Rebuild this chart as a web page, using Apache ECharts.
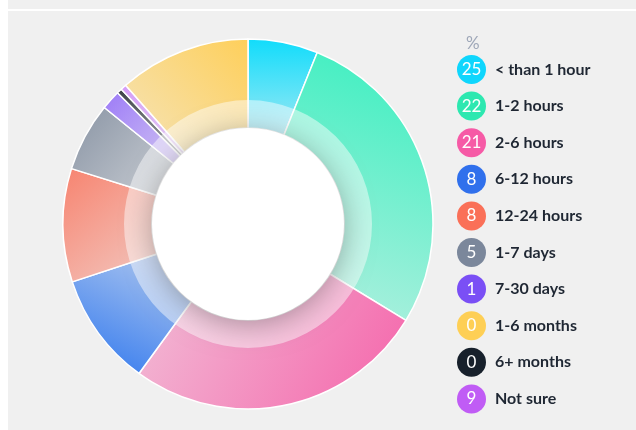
<!DOCTYPE html>
<html>
<head>
<meta charset="utf-8">
<style>
  html, body { margin: 0; padding: 0; background: #fff; }
  #chart { width: 636px; height: 430px; }
</style>
<script src="https://cdn.jsdelivr.net/npm/echarts@6/dist/echarts.min.js"></script>
</head>
<body>
<div id="chart"></div>
<script>
// legend rows
const categories = ['< than 1 hour', '1-2 hours', '2-6 hours', '6-12 hours', '12-24 hours',
  '1-7 days', '7-30 days', '1-6 months', '6+ months', 'Not sure'];
const legendValues = [25, 22, 21, 8, 8, 5, 1, 0, 0, 9];
const legendColors = ['#0fd6fd', '#2de8b0', '#f65aa6', '#3070ec', '#fa7058',
  '#7b879b', '#7a4ff5', '#fecf55', '#17202b', '#c05cf5'];

// slice order on the ring (clockwise from top) and their sizes
const sliceNames = ['< than 1 hour', '1-2 hours', '2-6 hours', '6-12 hours', '12-24 hours',
  '1-7 days', '7-30 days', '6+ months', 'Not sure', '1-6 months'];
const sliceValues = [6.1, 27.6, 26.3, 9.9, 9.9, 6.0, 1.7, 0.45, 0.5, 11.5];
const sliceColors = ['#10dcfb', '#3cefc0', '#f564aa', '#3a7eee', '#f7836f',
  '#8994a4', '#9c7af7', '#3a3f44', '#d49af7', '#fecf5a'];
// gradient direction per slice: from saturated end to pale end
const sliceDirs = [[0, 0, 0, 1], [0.8, 0, 0.2, 1], [1, 1, 0, 0], [0.3, 1, 0.8, 0], [0, 0, 1, 1],
  [0, 0, 1, 1], [0, 0, 1, 1], [0, 0, 1, 1], [0, 0, 1, 1], [1, 0, 0, 1]];

const FONT = 'Lato, "Noto Sans", sans-serif';

function fade(hex, a) {
  const n = parseInt(hex.slice(1), 16);
  return `rgba(${n >> 16},${(n >> 8) & 255},${n & 255},${a})`;
}

const chart = echarts.init(document.getElementById('chart'));

const rich = {
  t: { fontSize: 16, fontWeight: 'bold', color: '#1f2733', fontFamily: FONT, padding: [0, 0, 0, 9] },
};
legendColors.forEach((c, i) => {
  rich['b' + i] = {
    width: 29, height: 29, lineHeight: 29, borderRadius: 15,
    backgroundColor: c, color: '#fff', align: 'center', fontSize: 17, fontFamily: FONT,
  };
});

chart.setOption({
  backgroundColor: '#f0f0f0',
  animation: false,
  graphic: [
    { type: 'rect', left: 0, top: 0, shape: { width: 8, height: 430 }, style: { fill: '#fff' } },
    { type: 'rect', left: 8, top: 9, shape: { width: 628, height: 2 }, style: { fill: '#fff' } },
  ],
  title: {
    text: '%',
    left: 461,
    top: 30,
    textStyle: { fontSize: 17, fontWeight: 'normal', color: '#9ea7b8', fontFamily: FONT },
  },
  legend: {
    orient: 'vertical',
    left: 451,
    top: 55,
    padding: 0,
    itemGap: 7.6,
    itemWidth: 0,
    itemHeight: 0,
    selectedMode: false,
    data: categories,
    formatter: (name) => {
      const i = categories.indexOf(name);
      return `{b${i}|${legendValues[i]}}{t|${name}}`;
    },
    textStyle: { rich },
  },
  series: [
    {
      type: 'pie',
      center: [248, 224],
      radius: [96, 185],
      startAngle: 90,
      label: { show: false },
      labelLine: { show: false },
      emphasis: { disabled: true },
      itemStyle: { borderColor: '#fff', borderWidth: 1.5 },
      data: sliceNames.map((name, i) => ({
        name,
        value: sliceValues[i],
        itemStyle: {
          color: {
            type: 'linear',
            x: sliceDirs[i][0], y: sliceDirs[i][1], x2: sliceDirs[i][2], y2: sliceDirs[i][3],
            colorStops: [
              { offset: 0, color: sliceColors[i] },
              { offset: 1, color: fade(sliceColors[i], 0.36) },
            ],
          },
        },
      })),
    },
    {
      // pale inner band
      type: 'pie',
      center: [248, 224],
      radius: [96, 124],
      silent: true,
      label: { show: false },
      labelLine: { show: false },
      itemStyle: { color: 'rgba(255,255,255,0.48)' },
      data: [{ value: 1 }],
    },
    {
      // white hole with soft shadow
      type: 'pie',
      center: [248, 224],
      radius: [0, 96],
      silent: true,
      label: { show: false },
      labelLine: { show: false },
      itemStyle: {
        color: '#fff',
        shadowBlur: 30,
        shadowColor: 'rgba(0,0,0,0.32)',
        shadowOffsetY: 5,
      },
      data: [{ value: 1 }],
    },
  ],
});
</script>
</body>
</html>
